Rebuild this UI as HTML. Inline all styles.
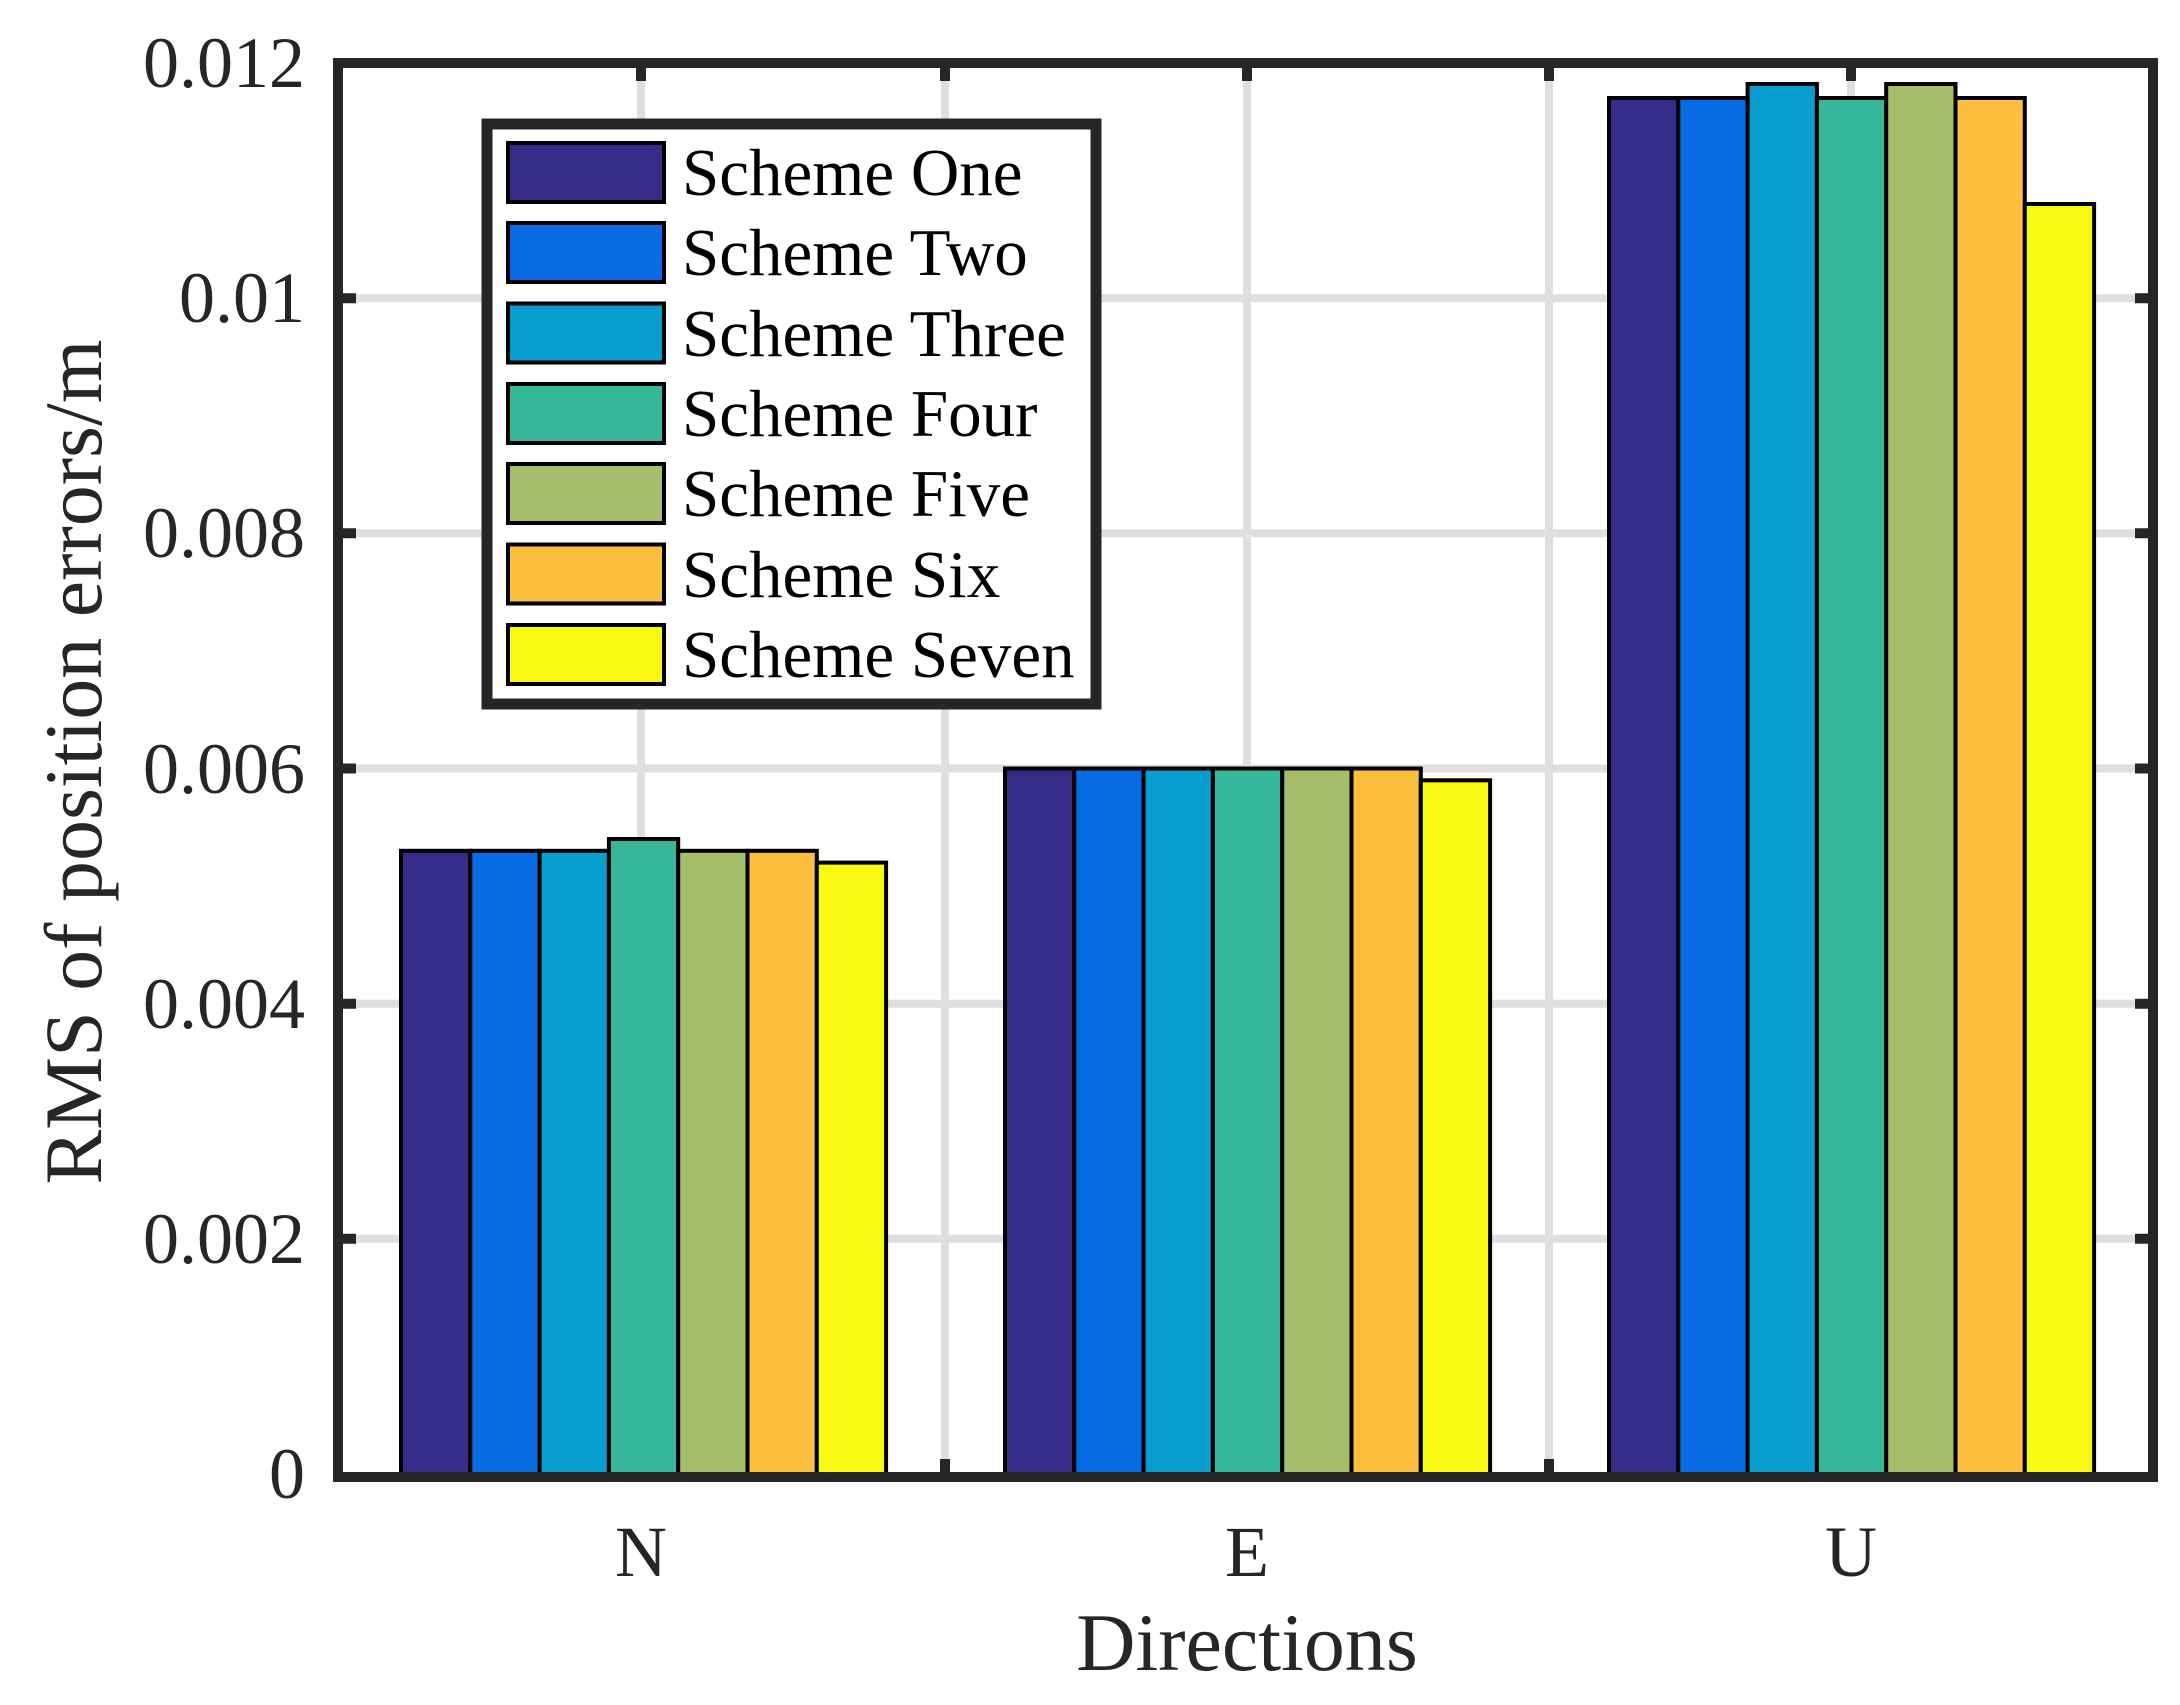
<!DOCTYPE html>
<html><head><meta charset="utf-8"><style>html,body{margin:0;padding:0;background:#fff}svg{display:block}</style></head>
<body>
<svg width="2180" height="1705" viewBox="0 0 2180 1705" xmlns="http://www.w3.org/2000/svg" font-family="'Liberation Serif', serif">
<rect width="2180" height="1705" fill="#fff"/>
<!-- grid -->
<g stroke="#dfdfdf" stroke-width="8">
<line x1="343" y1="1238.8" x2="2148" y2="1238.8"/>
<line x1="343" y1="1003.7" x2="2148" y2="1003.7"/>
<line x1="343" y1="768.5" x2="2148" y2="768.5"/>
<line x1="343" y1="533.3" x2="2148" y2="533.3"/>
<line x1="343" y1="298.2" x2="2148" y2="298.2"/>
<line x1="641" y1="68" x2="641" y2="1472"/>
<line x1="945" y1="68" x2="945" y2="1472"/>
<line x1="1247" y1="68" x2="1247" y2="1472"/>
<line x1="1549" y1="68" x2="1549" y2="1472"/>
<line x1="1851" y1="68" x2="1851" y2="1472"/>
</g>
<!-- ticks -->
<g stroke="#262626" stroke-width="10">
<line x1="338" y1="1238.8" x2="356" y2="1238.8"/><line x1="2153" y1="1238.8" x2="2135" y2="1238.8"/>
<line x1="338" y1="1003.7" x2="356" y2="1003.7"/><line x1="2153" y1="1003.7" x2="2135" y2="1003.7"/>
<line x1="338" y1="768.5" x2="356" y2="768.5"/><line x1="2153" y1="768.5" x2="2135" y2="768.5"/>
<line x1="338" y1="533.3" x2="356" y2="533.3"/><line x1="2153" y1="533.3" x2="2135" y2="533.3"/>
<line x1="338" y1="298.2" x2="356" y2="298.2"/><line x1="2153" y1="298.2" x2="2135" y2="298.2"/>
<line x1="641" y1="63" x2="641" y2="81"/><line x1="641" y1="1477" x2="641" y2="1459"/>
<line x1="945" y1="63" x2="945" y2="81"/><line x1="945" y1="1477" x2="945" y2="1459"/>
<line x1="1247" y1="63" x2="1247" y2="81"/><line x1="1247" y1="1477" x2="1247" y2="1459"/>
<line x1="1549" y1="63" x2="1549" y2="81"/><line x1="1549" y1="1477" x2="1549" y2="1459"/>
<line x1="1851" y1="63" x2="1851" y2="81"/><line x1="1851" y1="1477" x2="1851" y2="1459"/>
</g>
<!-- bars -->
<g stroke="#000" stroke-width="4">
<rect x="401" y="850.8" width="69.3" height="623.2" fill="#362B87"/>
<rect x="470.3" y="850.8" width="69.3" height="623.2" fill="#076CE3"/>
<rect x="539.6" y="850.8" width="69.3" height="623.2" fill="#079DCF"/>
<rect x="608.9" y="839" width="69.3" height="635" fill="#37B79A"/>
<rect x="678.2" y="850.8" width="69.3" height="623.2" fill="#A6BE6B"/>
<rect x="747.5" y="850.8" width="69.3" height="623.2" fill="#FCBE3D"/>
<rect x="816.8" y="862.6" width="69.3" height="611.4" fill="#F8F812"/>

<rect x="1005" y="768.5" width="69.3" height="705.5" fill="#362B87"/>
<rect x="1074.3" y="768.5" width="69.3" height="705.5" fill="#076CE3"/>
<rect x="1143.6" y="768.5" width="69.3" height="705.5" fill="#079DCF"/>
<rect x="1212.9" y="768.5" width="69.3" height="705.5" fill="#37B79A"/>
<rect x="1282.2" y="768.5" width="69.3" height="705.5" fill="#A6BE6B"/>
<rect x="1351.5" y="768.5" width="69.3" height="705.5" fill="#FCBE3D"/>
<rect x="1420.8" y="780.3" width="69.3" height="693.7" fill="#F8F812"/>

<rect x="1609" y="98" width="69.3" height="1376" fill="#362B87"/>
<rect x="1678.3" y="98" width="69.3" height="1376" fill="#076CE3"/>
<rect x="1747.6" y="84" width="69.3" height="1390" fill="#079DCF"/>
<rect x="1816.9" y="98" width="69.3" height="1376" fill="#37B79A"/>
<rect x="1886.2" y="84" width="69.3" height="1390" fill="#A6BE6B"/>
<rect x="1955.5" y="98" width="69.3" height="1376" fill="#FCBE3D"/>
<rect x="2024.8" y="204" width="69.3" height="1270" fill="#F8F812"/>
</g>
<!-- axes box -->
<rect x="338" y="63" width="1815" height="1414" fill="none" stroke="#262626" stroke-width="10"/>
<!-- y tick labels -->
<g font-size="72" fill="#262626" text-anchor="end">
<text x="305" y="1498">0</text>
<text x="305" y="1263">0.002</text>
<text x="305" y="1028">0.004</text>
<text x="305" y="793">0.006</text>
<text x="305" y="557">0.008</text>
<text x="305" y="322">0.01</text>
<text x="305" y="87">0.012</text>
</g>
<g font-size="72" fill="#262626" text-anchor="middle">
<text x="641" y="1576">N</text>
<text x="1247" y="1576">E</text>
<text x="1851" y="1576">U</text>
</g>
<text x="1247" y="1670" font-size="82" fill="#262626" text-anchor="middle">Directions</text>
<text transform="translate(101,762) rotate(-90)" font-size="82" fill="#262626" text-anchor="middle">RMS of position errors/m</text>
<!-- legend -->
<rect x="487" y="124" width="609" height="580" fill="#fff" stroke="#262626" stroke-width="11"/>
<g stroke="#000" stroke-width="4">
<rect x="508" y="143" width="156" height="59" fill="#362B87"/>
<rect x="508" y="223" width="156" height="59" fill="#076CE3"/>
<rect x="508" y="303.5" width="156" height="59" fill="#079DCF"/>
<rect x="508" y="384" width="156" height="59" fill="#37B79A"/>
<rect x="508" y="464" width="156" height="59" fill="#A6BE6B"/>
<rect x="508" y="544.5" width="156" height="59" fill="#FCBE3D"/>
<rect x="508" y="625" width="156" height="59" fill="#F8F812"/>
</g>
<g font-size="67" fill="#000">
<text x="682" y="195">Scheme One</text>
<text x="682" y="275">Scheme Two</text>
<text x="682" y="356">Scheme Three</text>
<text x="682" y="436">Scheme Four</text>
<text x="682" y="516">Scheme Five</text>
<text x="682" y="597">Scheme Six</text>
<text x="682" y="677">Scheme Seven</text>
</g>
</svg>
</body></html>
